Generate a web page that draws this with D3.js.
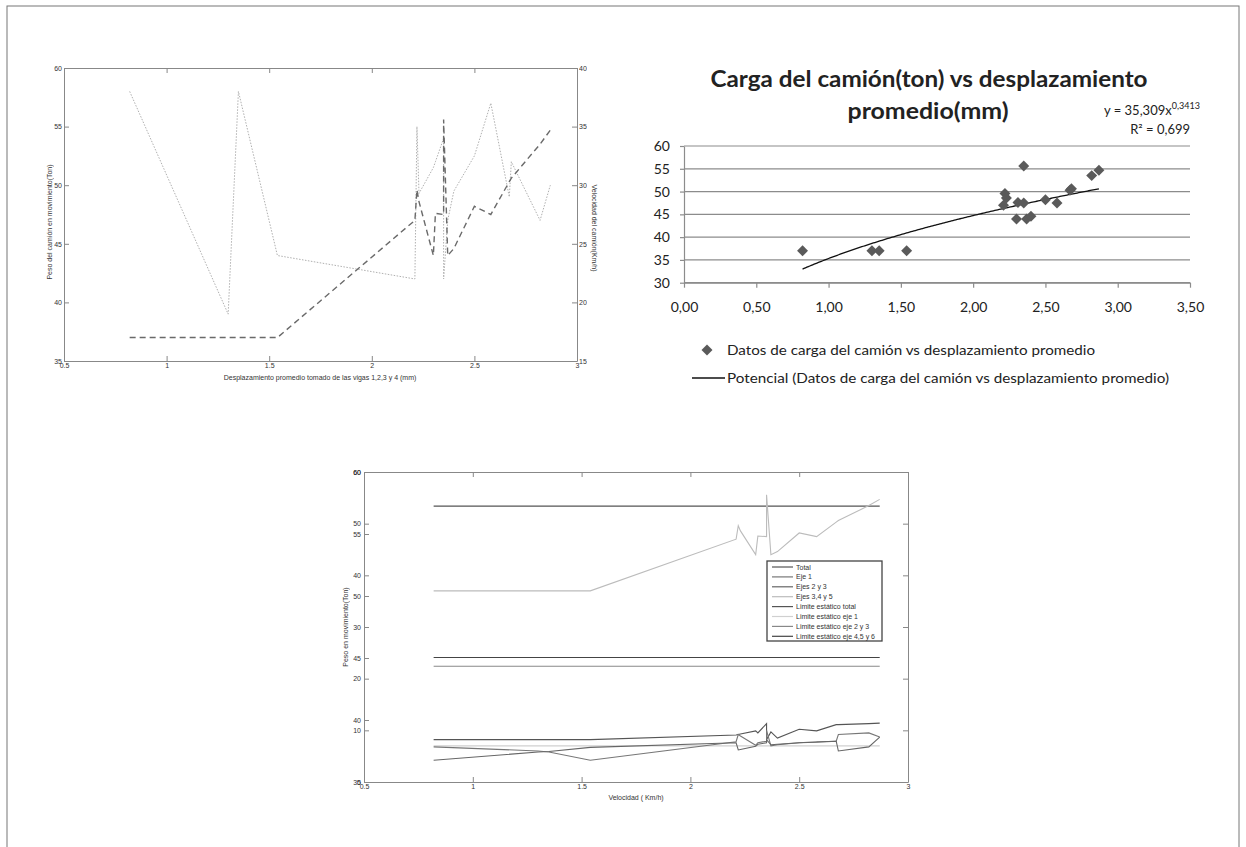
<!DOCTYPE html>
<html>
<head>
<meta charset="utf-8">
<script src="https://cdn.jsdelivr.net/npm/d3@7"></script>
<style>
  body { margin: 0; background: #fff; }
  svg { display: block; }
  svg text { opacity: 0.995; }
  .mat text { font-family: "Liberation Sans", Arial, sans-serif; font-size: 7px; fill: #333; }
  .xl text { font-family: Lato, "Open Sans", sans-serif; fill: #222; }
</style>
</head>
<body>
<div id="chart"></div>
<script>
// Datos
const desplazamiento = [0.82, 1.30, 1.35, 1.54, 2.21, 2.22, 2.23, 2.30, 2.31, 2.35, 2.35, 2.37, 2.40, 2.50, 2.58, 2.67, 2.68, 2.82, 2.87];
const pesoTotal = [37, 37, 37, 37, 47.0, 49.6, 48.6, 44.0, 47.6, 47.5, 55.6, 44.0, 44.6, 48.2, 47.5, 50.3, 50.6, 53.5, 54.7];
const velocidad = [38, 19, 38, 24, 22, 35, 29.3, 31.5, 32, 34, 22, 27, 29.5, 32.5, 37, 29, 32, 27, 30];

const pesoEje1 = [8.2, 8.2, 8.2, 8.2, 9.1, 9.2, 9.3, 9.9, 9.5, 11.3, 8.2, 9.7, 8.5, 10.2, 9.9, 11.1, 11.1, 11.3, 11.4];
const pesoEjes23 = [6.8, 6.0, 5.8, 4.2, 7.8, 9.2, 8.9, 7.1, 7.6, 7.9, 10.0, 7.0, 7.2, 7.6, 7.8, 7.9, 9.2, 9.5, 8.7];
const pesoEjes345 = [4.2, 5.8, 5.9, 6.7, 7.6, 6.2, 6.3, 6.9, 7.3, 7.6, 8.2, 7.2, 7.3, 7.6, 7.7, 7.9, 6.0, 6.8, 8.7];

const limiteTotal = 53.4;
const limiteEje1 = 7.0;
const limiteEje23 = 22.4;
const limiteEje456 = 24.1;

// Tendencia potencial publicada en la gráfica
const trendA = 35.309;
const trendB = 0.3413;

const ticksDesp = [0.5, 1, 1.5, 2, 2.5, 3];
const ticksPeso = [35, 40, 45, 50, 55, 60];
const ticksVel = [15, 20, 25, 30, 35, 40];
const ticksPeso60 = [0, 10, 20, 30, 40, 50, 60];
const ticksCargaY = [30, 35, 40, 45, 50, 55, 60];
const ticksCargaX = [0, 0.5, 1, 1.5, 2, 2.5, 3, 3.5];

const legendBottom = ["Total", "Eje 1", "Ejes 2 y 3", "Ejes 3,4 y 5", "Limite estático total",
  "Limite estático eje 1", "Limite estático eje 2 y 3", "Limite estático eje 4,5 y 6"];
const legendColors = ["#555", "#777", "#666", "#bcbcbc", "#555", "#d0d0d0", "#888", "#444"];

const width = 1246, height = 847;
const svg = d3.select("#chart").append("svg")
  .attr("width", width)
  .attr("height", height);

svg.append("rect")
  .attr("x", 7).attr("y", 6)
  .attr("width", 1232).attr("height", 850)
  .attr("fill", "none").attr("stroke", "#777").attr("stroke-width", 1);

const axisGray = "#888";
const fmtMat = d3.format("");

function styleAxis(g) {
  g.selectAll("path.domain").attr("stroke", axisGray);
  g.selectAll(".tick line").attr("stroke", axisGray);
  g.selectAll("text").attr("fill", "#333").style("font-size", "7px")
    .style("font-family", "'Liberation Sans', Arial, sans-serif");
}

// ---------- Gráfica 1: peso y velocidad vs desplazamiento ----------
const g1 = svg.append("g").attr("class", "mat");
const x1 = d3.scaleLinear().domain([0.5, 3]).range([64, 577]);
const y1L = d3.scaleLinear().domain([35, 60]).range([361, 68]);
const y1R = d3.scaleLinear().domain([15, 40]).range([361, 68]);

g1.append("g").attr("transform", "translate(0,361)")
  .call(d3.axisBottom(x1).tickValues(ticksDesp).tickFormat(fmtMat).tickSize(-5).tickSizeOuter(0).tickPadding(2))
  .call(styleAxis);
g1.append("g").attr("transform", "translate(0,68)")
  .call(d3.axisTop(x1).tickValues(ticksDesp).tickFormat("").tickSize(-5).tickSizeOuter(0))
  .call(styleAxis);
g1.append("g").attr("transform", "translate(64,0)")
  .call(d3.axisLeft(y1L).tickValues(ticksPeso).tickFormat(fmtMat).tickSize(-5).tickSizeOuter(0).tickPadding(2))
  .call(styleAxis);
g1.append("g").attr("transform", "translate(577,0)")
  .call(d3.axisRight(y1R).tickValues(ticksVel).tickFormat(fmtMat).tickSize(-5).tickSizeOuter(0).tickPadding(2))
  .call(styleAxis);

const line1Vel = d3.line().x((d, i) => x1(desplazamiento[i])).y(d => y1R(d));
const line1Peso = d3.line().x((d, i) => x1(desplazamiento[i])).y(d => y1L(d));

g1.append("path").datum(velocidad)
  .attr("d", line1Vel)
  .attr("fill", "none").attr("stroke", "#b0b0b0").attr("stroke-width", 1)
  .attr("stroke-dasharray", "1.5,1.5");
g1.append("path").datum(pesoTotal)
  .attr("d", line1Peso)
  .attr("fill", "none").attr("stroke", "#6a6a6a").attr("stroke-width", 1.4)
  .attr("stroke-dasharray", "6,4");

g1.append("text").attr("x", 320).attr("y", 380).attr("text-anchor", "middle")
  .text("Desplazamiento promedio tomado de las vigas 1,2,3 y 4 (mm)");
g1.append("text").attr("transform", "translate(52,222) rotate(-90)").attr("text-anchor", "middle")
  .text("Peso del camión en movimiento(Ton)");
g1.append("text").attr("transform", "translate(592,228) rotate(90)").attr("text-anchor", "middle")
  .text("Velocidad del camión(Km/h)");

// ---------- Gráfica 2: carga vs desplazamiento (Excel) ----------
const g2 = svg.append("g").attr("class", "xl");
const x2 = d3.scaleLinear().domain([0, 3.5]).range([684, 1190]);
const y2 = d3.scaleLinear().domain([30, 60]).range([282.7, 146]);
const fmtComa = d => d.toFixed(2).replace(".", ",");

g2.append("g").selectAll("line")
  .data(ticksCargaY)
  .join("line")
  .attr("x1", x2(0)).attr("x2", x2(3.5))
  .attr("y1", d => y2(d)).attr("y2", d => y2(d))
  .attr("stroke", "#8c8c8c").attr("stroke-width", 1.2);

const ax2y = g2.append("g").attr("transform", `translate(${x2(0)},0)`)
  .call(d3.axisLeft(y2).tickValues(ticksCargaY).tickFormat(d3.format("d")).tickSize(4).tickSizeOuter(0).tickPadding(10));
const ax2x = g2.append("g").attr("transform", `translate(0,${y2(30)})`)
  .call(d3.axisBottom(x2).tickValues(ticksCargaX).tickFormat(fmtComa).tickSize(5).tickSizeOuter(0).tickPadding(14));
[ax2x, ax2y].forEach(a => {
  a.selectAll("path.domain, .tick line").attr("stroke", "#8c8c8c").attr("stroke-width", 1.2);
  a.selectAll("text").attr("fill", "#222").style("font-size", "14px").style("font-family", "Lato, sans-serif");
});

const trendX = d3.range(0.82, 2.8701, 0.01);
g2.append("path").datum(trendX)
  .attr("d", d3.line().x(d => x2(d)).y(d => y2(trendA * Math.pow(d, trendB))))
  .attr("fill", "none").attr("stroke", "#111").attr("stroke-width", 1.3);

const diamond = d3.symbol().type(d3.symbolSquare).size(60);
g2.append("g").selectAll("path")
  .data(pesoTotal)
  .join("path")
  .attr("d", diamond)
  .attr("transform", (d, i) => `translate(${x2(desplazamiento[i])},${y2(d)}) rotate(45)`)
  .attr("fill", "#5a5a5a");

g2.append("text").attr("x", 929).attr("y", 87).attr("text-anchor", "middle")
  .style("font-size", "22px").style("font-weight", "bold").attr("fill", "#111")
  .attr("textLength", 437).attr("lengthAdjust", "spacingAndGlyphs")
  .text("Carga del camión(ton)  vs desplazamiento");
g2.append("text").attr("x", 928).attr("y", 119).attr("text-anchor", "middle")
  .style("font-size", "22px").style("font-weight", "bold").attr("fill", "#111")
  .attr("textLength", 161).attr("lengthAdjust", "spacingAndGlyphs")
  .text("promedio(mm)");

const eq = g2.append("text").attr("x", 1104).attr("y", 115).style("font-size", "13px");
eq.append("tspan").text("y = 35,309x");
eq.append("tspan").attr("dy", -6).style("font-size", "9px").text("0,3413");
g2.append("text").attr("x", 1190).attr("y", 134).attr("text-anchor", "end")
  .style("font-size", "13px").text("R² = 0,699");

g2.append("path").attr("d", diamond).attr("transform", "translate(707,350) rotate(45)").attr("fill", "#5a5a5a");
g2.append("text").attr("x", 727).attr("y", 355).style("font-size", "14px")
  .attr("textLength", 368).attr("lengthAdjust", "spacingAndGlyphs")
  .text("Datos de carga del camión vs desplazamiento  promedio");
g2.append("line").attr("x1", 692).attr("x2", 725).attr("y1", 378).attr("y2", 378)
  .attr("stroke", "#111").attr("stroke-width", 1.3);
g2.append("text").attr("x", 727).attr("y", 383).style("font-size", "14px")
  .attr("textLength", 442).attr("lengthAdjust", "spacingAndGlyphs")
  .text("Potencial (Datos  de carga del camión vs desplazamiento  promedio)");

// ---------- Gráfica 3: peso en movimiento vs velocidad ----------
const g3 = svg.append("g").attr("class", "mat");
const x3 = d3.scaleLinear().domain([0.5, 3]).range([364, 908]);
const y3 = d3.scaleLinear().domain([0, 60]).range([782, 472]);
const y3b = d3.scaleLinear().domain([35, 60]).range([782, 472]);

g3.append("g").attr("transform", "translate(0,782)")
  .call(d3.axisBottom(x3).tickValues(ticksDesp).tickFormat(fmtMat).tickSize(-5).tickSizeOuter(0).tickPadding(2))
  .call(styleAxis);
g3.append("g").attr("transform", "translate(0,472)")
  .call(d3.axisTop(x3).tickValues(ticksDesp).tickFormat("").tickSize(-5).tickSizeOuter(0))
  .call(styleAxis);
// las dos escalas de la izquierda están superpuestas como en el original
g3.append("g").attr("transform", "translate(364,0)")
  .call(d3.axisLeft(y3).tickValues(ticksPeso60).tickFormat(fmtMat).tickSize(-5).tickSizeOuter(0).tickPadding(3))
  .call(styleAxis);
g3.append("g").attr("transform", "translate(364,0)")
  .call(d3.axisLeft(y3b).tickValues(ticksPeso).tickFormat(fmtMat).tickSize(-5).tickSizeOuter(0).tickPadding(3))
  .call(styleAxis);
g3.append("g").attr("transform", "translate(908,0)")
  .call(d3.axisRight(y3).tickValues(ticksPeso60).tickFormat("").tickSize(-5).tickSizeOuter(0))
  .call(styleAxis);

const line3 = d3.line().x((d, i) => x3(desplazamiento[i])).y(d => y3(d));
const xMin = d3.min(desplazamiento), xMax = d3.max(desplazamiento);

const limites = [
  { v: limiteTotal, c: legendColors[4] },
  { v: limiteEje1, c: legendColors[5] },
  { v: limiteEje23, c: legendColors[6] },
  { v: limiteEje456, c: legendColors[7] }
];
g3.append("g").selectAll("line")
  .data(limites)
  .join("line")
  .attr("x1", x3(xMin)).attr("x2", x3(xMax))
  .attr("y1", d => y3(d.v)).attr("y2", d => y3(d.v))
  .attr("stroke", d => d.c).attr("stroke-width", 1.2);

const series3 = [
  { data: pesoEje1, c: legendColors[0] },
  { data: pesoEjes23, c: legendColors[1] },
  { data: pesoEjes345, c: legendColors[2] },
  { data: pesoTotal, c: legendColors[3] }
];
g3.append("g").selectAll("path")
  .data(series3)
  .join("path")
  .attr("d", d => line3(d.data))
  .attr("fill", "none").attr("stroke", d => d.c).attr("stroke-width", 1.1);

// leyenda
const leg = g3.append("g").attr("transform", "translate(767,561)");
leg.append("rect").attr("width", 115).attr("height", 80)
  .attr("fill", "#fff").attr("stroke", "#444").attr("stroke-width", 1.3);
const items = leg.selectAll("g.item")
  .data(legendBottom)
  .join("g").attr("class", "item")
  .attr("transform", (d, i) => `translate(0,${6 + i * 9.9})`);
items.append("line").attr("x1", 5).attr("x2", 26)
  .attr("stroke", (d, i) => legendColors[i]).attr("stroke-width", 1.2);
items.append("text").attr("x", 29).attr("y", 2.5).text(d => d);

g3.append("text").attr("x", 636).attr("y", 800).attr("text-anchor", "middle")
  .text("Velocidad ( Km/h)");
g3.append("text").attr("transform", "translate(348,627) rotate(-90)").attr("text-anchor", "middle")
  .text("Peso en movimiento(Ton)");
</script>
</body>
</html>
